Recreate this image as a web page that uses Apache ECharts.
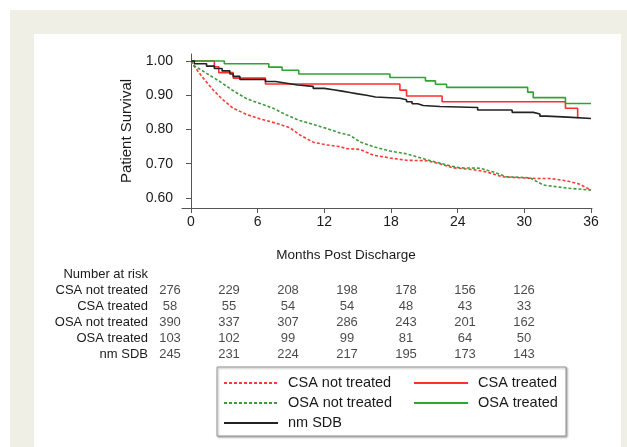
<!DOCTYPE html>
<html>
<head>
<meta charset="utf-8">
<script src="https://cdn.jsdelivr.net/npm/echarts@6/dist/echarts.min.js"></script>
<style>
  html, body { margin: 0; padding: 0; background: #fff; }
  #km-chart { width: 627px; height: 447px; }
</style>
</head>
<body>
<div id="km-chart"></div>
<script>
// survival curves, [month, survival]
const csaNotTreated = [
  [0, 1], [0.2, 0.988], [1.1, 0.95], [2.0, 0.915], [2.9, 0.886], [3.8, 0.862], [5.0, 0.844],
  [6.2, 0.831], [7.7, 0.818], [8.9, 0.805], [9.8, 0.784], [11.0, 0.763], [12.2, 0.755],
  [13.4, 0.75], [14.0, 0.744], [15.2, 0.742], [16.4, 0.725], [17.9, 0.717], [19.4, 0.71],
  [21.2, 0.709], [22.4, 0.7], [23.6, 0.688], [25.4, 0.683], [26.6, 0.676], [28.0, 0.662],
  [29.6, 0.659], [31.1, 0.657], [32.3, 0.657], [33.8, 0.65], [35.0, 0.64], [36, 0.623]
];
const csaTreated = [
  [0, 1], [2.1, 0.983], [2.5, 0.966], [3.8, 0.95], [6.7, 0.933], [18.8, 0.915],
  [19.4, 0.898], [22.6, 0.881], [33.7, 0.862], [34.8, 0.833], [34.85, 0.833]
];
const osaNotTreated = [
  [0, 1], [0.2, 0.988], [1.4, 0.964], [2.6, 0.94], [3.8, 0.913], [5.0, 0.89], [6.2, 0.876],
  [7.4, 0.862], [8.6, 0.842], [9.8, 0.826], [11.0, 0.815], [12.2, 0.803], [13.4, 0.79],
  [14.3, 0.783], [15.2, 0.764], [16.4, 0.75], [17.9, 0.737], [19.4, 0.729], [21.2, 0.712],
  [22.4, 0.702], [23.4, 0.693], [24.2, 0.688], [26.0, 0.687], [27.2, 0.676], [28.4, 0.662],
  [30.5, 0.659], [31.7, 0.638], [33.8, 0.629], [36, 0.623]
];
const osaTreated = [
  [0, 1], [3.0, 0.992], [7.0, 0.982], [8.2, 0.973], [9.7, 0.962], [17.9, 0.952], [21.1, 0.942],
  [22.0, 0.932], [23.0, 0.923], [30.3, 0.909], [30.8, 0.893], [33.7, 0.876], [36, 0.876]
];
const nmSdb = [
  [0, 1], [0.3, 0.992], [1.4, 0.985], [2.1, 0.978], [2.8, 0.971], [3.5, 0.962], [3.8, 0.955],
  [4.4, 0.946], [6.7, 0.94], [7.6, 0.935], [8.6, 0.93], [9.6, 0.926], [11.0, 0.92],
  [12.0, 0.916], [12.8, 0.912], [13.6, 0.908], [14.3, 0.904], [15.0, 0.9], [15.8, 0.895],
  [16.6, 0.891], [18.8, 0.887], [19.4, 0.881], [19.9, 0.875], [20.4, 0.87], [20.9, 0.867],
  [22.4, 0.864], [25.8, 0.857], [28.9, 0.85], [30.8, 0.845], [31.4, 0.839], [32.0, 0.836],
  [33.9, 0.832], [36, 0.832]
];

// axis ticks
const monthTicks = [0, 6, 12, 18, 24, 30, 36];
const survivalTicks = [0.6, 0.7, 0.8, 0.9, 1.0];

// number at risk table
const riskRows = ["Number at risk", "CSA not treated", "CSA treated", "OSA not treated", "OSA treated", "nm SDB"];
const riskCsaNotTreated = [276, 229, 208, 198, 178, 156, 126];
const riskCsaTreated = [58, 55, 54, 54, 48, 43, 33];
const riskOsaNotTreated = [390, 337, 307, 286, 243, 201, 162];
const riskOsaTreated = [103, 102, 99, 99, 81, 64, 50];
const riskNmSdb = [245, 231, 224, 217, 195, 173, 143];

const font = "'Liberation Sans', Arial, sans-serif";
const textColor = "#1a1a1a";

let chart = echarts.init(document.getElementById("km-chart"));

function curve(name, data, color, dotted) {
  return {
    name: name,
    type: "line",
    step: dotted ? false : "end",
    symbol: "none",
    silent: true,
    data: data,
    lineStyle: { color: color, width: 1.6, type: dotted ? [3, 2] : "solid" },
    itemStyle: { color: color }
  };
}

function riskRow(row, values) {
  return {
    type: "scatter",
    xAxisIndex: 1,
    yAxisIndex: 1,
    symbolSize: 1,
    silent: true,
    itemStyle: { color: "rgba(0,0,0,0)" },
    data: monthTicks.map((m, i) => [m, row, values[i]]),
    label: {
      show: true,
      position: "inside",
      formatter: p => p.value[2],
      color: textColor,
      fontFamily: font,
      fontSize: 13
    }
  };
}

let legendBase = {
  orient: "vertical",
  top: 374,
  itemWidth: 54,
  itemHeight: 14,
  itemGap: 2,
  selectedMode: false,
  padding: 0,
  itemStyle: { opacity: 0 },
  textStyle: { color: textColor, fontFamily: font, fontSize: 14.5, lineHeight: 18, padding: [0, 0, 0, 5] }
};

let option = {
  backgroundColor: "#fff",
  animation: false,
  graphic: [
    { type: "rect", shape: { x: 10, y: 10, width: 617, height: 437 }, style: { fill: "#efefe5" }, z: -10 },
    { type: "rect", shape: { x: 34, y: 34, width: 587, height: 413 }, style: { fill: "#fff" }, z: -9 },
    {
      type: "rect",
      shape: { x: 217, y: 367, width: 349, height: 69 },
      style: { fill: "#fff", stroke: "#999", lineWidth: 1, shadowBlur: 2, shadowOffsetX: 1, shadowOffsetY: 1, shadowColor: "rgba(0,0,0,0.35)" },
      z: -8
    },
    {
      type: "text",
      x: 346,
      y: 255,
      style: { text: "Months Post Discharge", fill: textColor, font: "13.5px " + font, textAlign: "center", textVerticalAlign: "middle" }
    }
  ],
  legend: [
    Object.assign({}, legendBase, { left: 223, data: ["CSA not treated", "OSA not treated", "nm SDB"] }),
    Object.assign({}, legendBase, { left: 413, data: ["CSA treated", "OSA treated"] })
  ],
  grid: [
    { left: 182, top: 54, right: 35, bottom: 239 },
    { left: 170, top: 266, right: 103, bottom: 85 }
  ],
  xAxis: [
    {
      type: "value",
      min: -0.81,
      max: 36.09,
      splitLine: { show: false },
      axisLine: { lineStyle: { color: "#555" } },
      axisTick: { show: true, length: 5, customValues: monthTicks, lineStyle: { color: "#555" } },
      axisLabel: { customValues: monthTicks, margin: 7, color: textColor, fontFamily: font, fontSize: 14 }
    },
    { type: "value", gridIndex: 1, min: 0, max: 36, show: false }
  ],
  yAxis: [
    {
      type: "value",
      min: 0.5708,
      max: 1.0204,
      name: "Patient Survival",
      nameLocation: "middle",
      nameGap: 42,
      nameTextStyle: { color: textColor, fontFamily: font, fontSize: 15 },
      splitLine: { show: false },
      axisLine: { show: true, lineStyle: { color: "#555" } },
      axisTick: { show: true, length: 5, customValues: survivalTicks, lineStyle: { color: "#555" } },
      axisLabel: {
        customValues: survivalTicks,
        margin: 9,
        color: textColor,
        fontFamily: font,
        fontSize: 14,
        formatter: v => v.toFixed(2)
      }
    },
    {
      type: "category",
      gridIndex: 1,
      inverse: true,
      data: riskRows,
      axisLine: { show: false },
      axisTick: { show: false },
      axisLabel: { interval: 0, margin: 22, color: textColor, fontFamily: font, fontSize: 13 }
    }
  ],
  series: [
    curve("CSA not treated", csaNotTreated, "#ff3838", true),
    curve("CSA treated", csaTreated, "#ff2e2e", false),
    curve("OSA not treated", osaNotTreated, "#3d9a3d", true),
    curve("OSA treated", osaTreated, "#2ea62e", false),
    curve("nm SDB", nmSdb, "#222", false),
    riskRow("CSA not treated", riskCsaNotTreated),
    riskRow("CSA treated", riskCsaTreated),
    riskRow("OSA not treated", riskOsaNotTreated),
    riskRow("OSA treated", riskOsaTreated),
    riskRow("nm SDB", riskNmSdb)
  ]
};

chart.setOption(option);
</script>
</body>
</html>
